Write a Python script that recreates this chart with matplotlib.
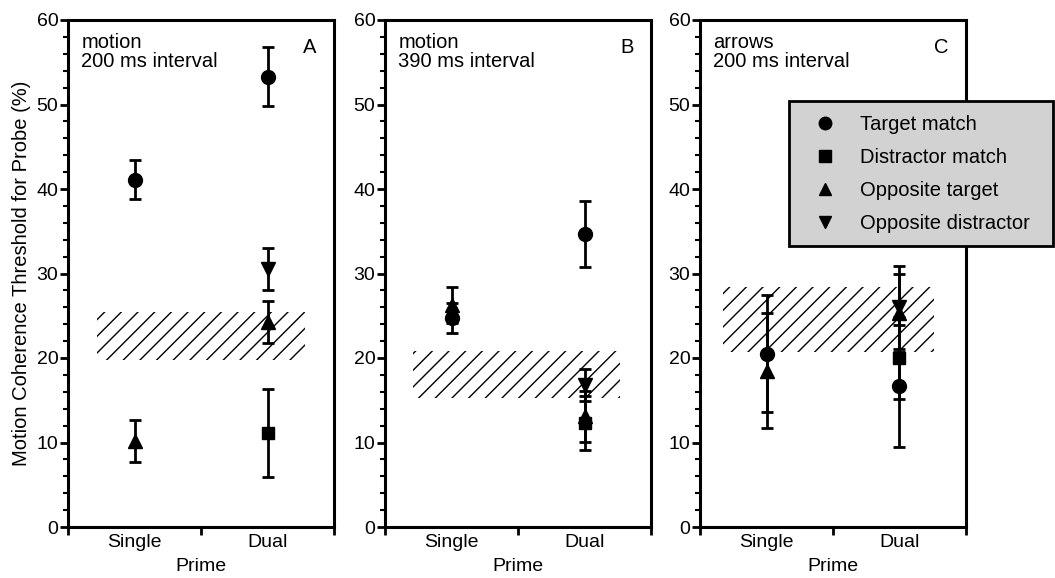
import matplotlib
matplotlib.use("Agg")
import matplotlib.pyplot as plt
from matplotlib.patches import Rectangle
from matplotlib.lines import Line2D
import numpy as np

plt.rcParams['font.family'] = ['Liberation Sans', 'DejaVu Sans']

# categories on the x axis
primes = ["Single", "Dual"]
series = ["Target match", "Distractor match", "Opposite target", "Opposite distractor"]
markers = {"Target match": "o", "Distractor match": "s",
           "Opposite target": "^", "Opposite distractor": "v"}

# panel A: motion, 200 ms   (x index, mean, error)
a_points = {
    "Target match": [(0, 41.1, 2.3), (1, 53.3, 3.5)],
    "Distractor match": [(1, 11.1, 5.2)],
    "Opposite target": [(0, 10.2, 2.5), (1, 24.3, 2.5)],
    "Opposite distractor": [(1, 30.5, 2.5)],
}
a_band = (19.8, 25.5)

# panel B: motion, 390 ms
b_points = {
    "Target match": [(0, 24.7, 1.8), (1, 34.7, 3.9)],
    "Distractor match": [(1, 12.3, 3.2)],
    "Opposite target": [(0, 26.3, 2.1), (1, 13.1, 3.0)],
    "Opposite distractor": [(1, 16.8, 1.9)],
}
b_band = (15.3, 20.8)

# panel C: arrows, 200 ms
c_points = {
    "Target match": [(0, 20.5, 6.9), (1, 16.7, 7.2)],
    "Distractor match": [(1, 20.0, 4.9)],
    "Opposite target": [(0, 18.5, 6.8), (1, 25.3, 4.6)],
    "Opposite distractor": [(1, 26.0, 4.9)],
}
c_band = (20.7, 28.4)

panels = [
    ("motion\n200 ms interval", "A", a_points, a_band, (0.22, 1.78)),
    ("motion\n390 ms interval", "B", b_points, b_band, (0.21, 1.77)),
    ("arrows\n200 ms interval", "C", c_points, c_band, (0.17, 1.76)),
]

W, H = 1055, 578
fig = plt.figure(figsize=(W / 100, H / 100), dpi=100)

lefts = [68, 385, 700]
width = 266
top, bottom = 20, 527

for (txt, letter, pts, band, bx), left in zip(panels, lefts):
    ax = fig.add_axes([left / W, 1 - bottom / H, width / W, (bottom - top) / H])
    ax.set_xlim(0, 2)
    ax.set_ylim(0, 60)
    for s in ax.spines.values():
        s.set_linewidth(2.2)

    # hatched band
    ax.add_patch(Rectangle((bx[0], band[0]), bx[1] - bx[0], band[1] - band[0],
                           fill=False, hatch='//', edgecolor='black', linewidth=0, zorder=1))

    for name in series:
        for xi, m, e in pts.get(name, []):
            ax.errorbar(xi + 0.5, m, yerr=e, fmt=markers[name], color='black',
                        markersize=10 if name != "Distractor match" else 9,
                        elinewidth=2, capsize=4.3, capthick=2, zorder=3)

    ax.set_yticks(np.arange(0, 61, 10))
    ax.set_yticks(np.arange(0, 61, 2), minor=True)
    ax.set_xticks([0, 1, 2])
    ax.set_xticks([0.5, 1.5], minor=True)
    ax.set_xticklabels([])
    ax.set_xticklabels(primes, minor=True)
    ax.tick_params(axis='y', which='major', direction='out', length=6, width=2,
                   labelsize=14, pad=1)
    ax.tick_params(axis='y', which='minor', direction='out', length=3.5, width=1.5)
    ax.tick_params(axis='x', which='major', direction='out', length=6, width=2)
    ax.tick_params(axis='x', which='minor', length=0, labelsize=14, pad=5)
    ax.set_xlabel("Prime", fontsize=14, labelpad=5)

    ax.text(0.05, 0.975, txt, transform=ax.transAxes, ha='left', va='top',
            fontsize=14.5, linespacing=1.0)
    ax.text(0.935, 0.965, letter, transform=ax.transAxes, ha='right', va='top',
            fontsize=14.5)

    if letter == "A":
        ax.set_ylabel("Motion Coherence Threshold for Probe (%)", fontsize=14.5, labelpad=4)

# legend box drawn on the figure, over panel C
lx0, lx1, ly0, ly1 = 789, 1053, 101, 246
fig.patches.append(Rectangle((lx0 / W, 1 - ly1 / H), (lx1 - lx0) / W, (ly1 - ly0) / H,
                             transform=fig.transFigure, facecolor='#d2d2d2',
                             edgecolor='black', linewidth=2, zorder=5))
handles = [Line2D([], [], linestyle='none', marker=markers[n], color='black',
                  markersize=9) for n in series]
fig.legend(handles, series, loc='upper left',
           bbox_to_anchor=(795 / W, 1 - 97 / H), frameon=False, fontsize=14.5,
           handletextpad=1.15, labelspacing=0.7, handlelength=1.2)

fig.savefig("out.png", dpi=100)
